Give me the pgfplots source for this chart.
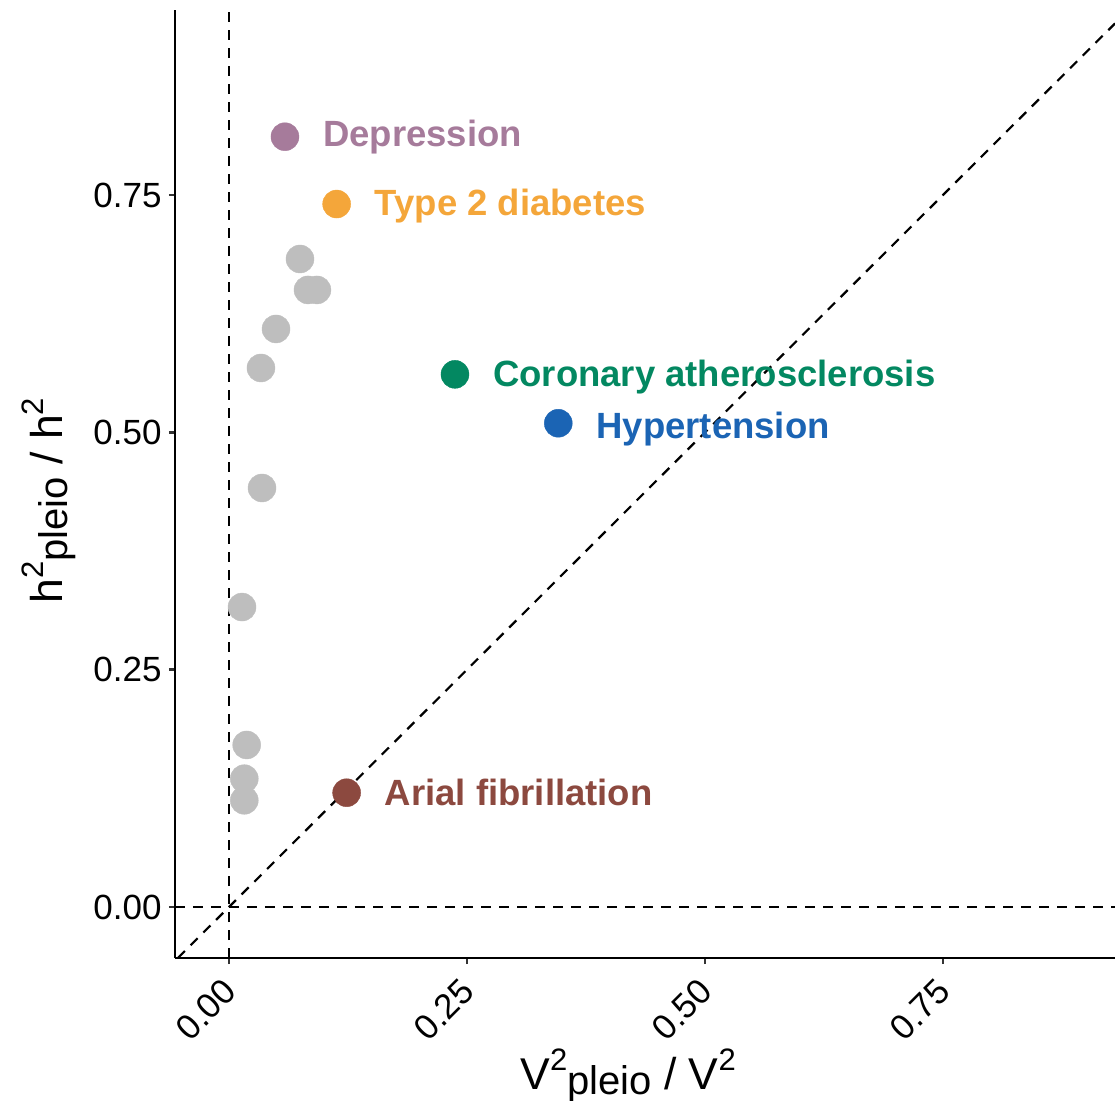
\documentclass[border=0pt]{standalone}
\usepackage{pgfplots}
\pgfplotsset{compat=1.18}
\usepackage{fontspec}
\setmainfont{Liberation Sans}

\definecolor{ptgrey}{HTML}{BEBEBE}
\definecolor{cdep}{HTML}{A67B9B}
\definecolor{ct2d}{HTML}{F4A63A}
\definecolor{ccad}{HTML}{038861}
\definecolor{chyp}{HTML}{1B64B4}
\definecolor{caf}{HTML}{8C493F}
\definecolor{tickgrey}{HTML}{333333}

% superscript "2" and lowered "pleio" for the axis titles
\newcommand{\sq}{\raisebox{19bp}{\fontsize{31bp}{31bp}\selectfont 2}}
\newcommand{\pl}{\raisebox{-5bp}{\fontsize{40bp}{40bp}\selectfont pleio}}

\begin{document}
\begin{tikzpicture}
\useasboundingbox (-175bp,-143bp) rectangle (940bp,958bp);
\begin{axis}[
  scale only axis,
  width=940bp, height=948bp,
  xmin=-0.0567, xmax=0.9307,
  ymin=-0.0537, ymax=0.9449,
  axis lines=left,
  axis line style={-, line width=2.6bp, black},
  xtick={0,0.25,0.5,0.75},
  ytick={0,0.25,0.5,0.75},
  xticklabels={0.00,0.25,0.50,0.75},
  yticklabels={0.00,0.25,0.50,0.75},
  tick align=outside,
  major tick length=6bp,
  tick style={line width=2.4bp, tickgrey},
  /pgf/number format/assume math mode=true,
  ticklabel style={font=\fontsize{35bp}{40bp}\selectfont, black},
  yticklabel style={xshift=-4bp},
  xticklabel style={rotate=45, anchor=north east, xshift=-11bp, yshift=0bp},
  xlabel={V\sq\pl{} / V\sq},
  ylabel={h\sq\pl{} / h\sq},
  label style={font=\fontsize{44.5bp}{50bp}\selectfont},
  xlabel style={at={(axis description cs:0.3638,-0.1392)}, anchor=base west},
  ylabel style={at={(axis description cs:-0.1202,0.3703)}, anchor=base west},
  clip=false,
]
% reference lines
\addplot[black, line width=2.2bp, dash pattern=on 10bp off 8bp] coordinates {(0,-0.0537) (0,0.9449)};
\addplot[black, line width=2.2bp, dash pattern=on 10bp off 8bp] coordinates {(-0.0567,0) (0.9307,0)};
\addplot[black, line width=2.2bp, dash pattern=on 10bp off 8bp] coordinates {(-0.0537,-0.0537) (0.9307,0.9307)};

% unlabelled traits
\addplot[only marks, mark=*, mark size=14bp, color=ptgrey, mark options={draw=ptgrey, fill=ptgrey}] coordinates {
  (0.0746,0.6826) (0.0830,0.6500) (0.0924,0.6500) (0.0494,0.6089)
  (0.0336,0.5678) (0.0347,0.4414) (0.0137,0.3160) (0.0186,0.1707)
  (0.0161,0.1352) (0.0161,0.1124)
};

% highlighted traits
\addplot[only marks, mark=*, mark size=14bp, color=cdep, mark options={draw=cdep, fill=cdep}] coordinates {(0.0588,0.8114)};
\addplot[only marks, mark=*, mark size=14bp, color=ct2d, mark options={draw=ct2d, fill=ct2d}] coordinates {(0.1131,0.7405)};
\addplot[only marks, mark=*, mark size=14bp, color=ccad, mark options={draw=ccad, fill=ccad}] coordinates {(0.2374,0.5611)};
\addplot[only marks, mark=*, mark size=14bp, color=chyp, mark options={draw=chyp, fill=chyp}] coordinates {(0.3459,0.5096)};
\addplot[only marks, mark=*, mark size=14bp, color=caf, mark options={draw=caf, fill=caf}] coordinates {(0.1236,0.1204)};

\begin{scope}[every node/.style={anchor=base west, inner sep=0pt, xshift=38bp, font=\fontsize{36.5bp}{40bp}\selectfont\bfseries}]
\node[text=cdep, yshift=-10bp] at (axis cs:0.0588,0.8114) {Depression};
\node[text=ct2d, yshift=-11bp] at (axis cs:0.1131,0.7405) {Type 2 diabetes};
\node[text=ccad, yshift=-12.5bp] at (axis cs:0.2374,0.5611) {Coronary atherosclerosis};
\node[text=chyp, yshift=-15.5bp] at (axis cs:0.3459,0.5096) {Hypertension};
\node[text=caf, yshift=-12.3bp] at (axis cs:0.1236,0.1204) {Arial fibrillation};
\end{scope}
\end{axis}
\end{tikzpicture}
\end{document}
